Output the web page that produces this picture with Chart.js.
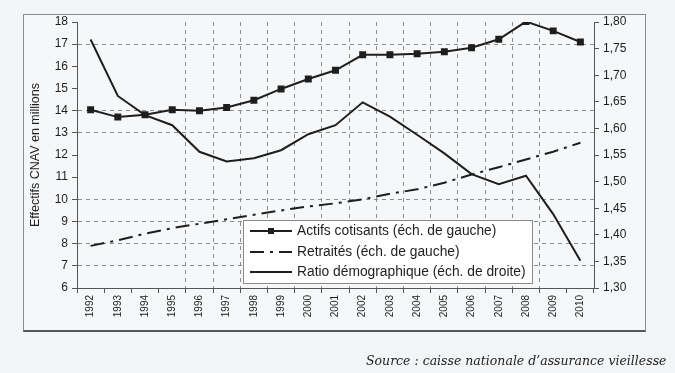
<!DOCTYPE html>
<html>
<head>
<meta charset="utf-8">
<script src="https://cdn.jsdelivr.net/npm/chart.js@4.4.1/dist/chart.umd.min.js"></script>
<style>
  html, body { margin: 0; padding: 0; background: #f4f5f7; }
  #wrap { position: relative; width: 675px; height: 373px; overflow: hidden; }
  #frame { position: absolute; left: 23px; top: 14px; width: 621px; height: 315px;
           border: 1px solid #8a8d92; border-bottom: 2px solid #55585c; background: #f6f7f9; }
  #chart { position: absolute; left: 0; top: 0; }
  #source { position: absolute; left: 366px; top: 353px; font-family: "DejaVu Serif", serif;
            font-style: italic; font-size: 12.5px; color: #222; white-space: nowrap; }
</style>
</head>
<body>
<div id="wrap">
  <div id="frame"></div>
  <canvas id="chart" width="675" height="373"></canvas>
  <div id="source">Source : caisse nationale d’assurance vieillesse</div>
</div>
<script>
// Years on the x axis
const years = ['1992', '1993', '1994', '1995', '1996', '1997', '1998', '1999', '2000', '2001',
               '2002', '2003', '2004', '2005', '2006', '2007', '2008', '2009', '2010'];

// Left scale (millions)
const actifs = [14.04, 13.71, 13.82, 14.04, 14.0, 14.14, 14.47, 14.98, 15.43, 15.82,
                16.52, 16.52, 16.57, 16.66, 16.84, 17.22, 18.02, 17.6, 17.1];
const retraites = [7.9, 8.15, 8.45, 8.7, 8.9, 9.1, 9.3, 9.5, 9.68, 9.82,
                   10.0, 10.25, 10.45, 10.75, 11.12, 11.45, 11.8, 12.15, 12.55];

// Right scale (ratio)
const ratio = [1.767, 1.661, 1.625, 1.606, 1.556, 1.538, 1.544, 1.559, 1.589, 1.606,
               1.649, 1.622, 1.588, 1.553, 1.514, 1.495, 1.511, 1.439, 1.351];

const legendLabels = ['Actifs cotisants (éch. de gauche)', 'Retraités (éch. de gauche)',
                      'Ratio démographique (éch. de droite)'];

// horizontal dashed grid lines that show in the scan
const shownY = [7, 8, 9, 10, 13, 14, 17];

const ink = '#1e1e1e';
const font = "'Liberation Sans', Arial, sans-serif";

// legend box drawn inside the plot
const boxLegend = {
  id: 'boxLegend',
  afterDatasetsDraw(chart) {
    const c = chart.ctx;
    const x = 243, y = 220, w = 289, h = 63;
    c.save();
    c.fillStyle = '#ffffff';
    c.fillRect(x, y, w, h);
    c.strokeStyle = '#8a8a8a';
    c.lineWidth = 1;
    c.strokeRect(x + 0.5, y + 0.5, w, h);
    const rows = [231, 252, 272];
    chart.data.datasets.forEach((ds, i) => {
      const ry = rows[i];
      c.strokeStyle = ink;
      c.lineWidth = 2;
      c.setLineDash(ds.borderDash || []);
      c.beginPath();
      c.moveTo(250, ry);
      c.lineTo(292, ry);
      c.stroke();
      c.setLineDash([]);
      if (ds.pointRadius > 0) {
        c.fillStyle = ink;
        c.fillRect(268, ry - 3, 6, 6);
      }
      c.fillStyle = ink;
      c.font = '13.8px ' + font;
      c.textBaseline = 'middle';
      c.fillText(legendLabels[i], 297, ry);
    });
    c.restore();
  }
};

new Chart(document.getElementById('chart'), {
  type: 'line',
  data: {
    labels: years,
    datasets: [
      {
        label: legendLabels[0], data: actifs, yAxisID: 'y',
        borderColor: ink, borderWidth: 2, pointStyle: 'rect', pointRadius: 3.5,
        pointBackgroundColor: ink, pointBorderColor: ink, tension: 0
      },
      {
        label: legendLabels[1], data: retraites, yAxisID: 'y',
        borderColor: ink, borderWidth: 2, borderDash: [14, 6, 3, 6], pointRadius: 0, tension: 0
      },
      {
        label: legendLabels[2], data: ratio, yAxisID: 'y1',
        borderColor: ink, borderWidth: 2, pointRadius: 0, tension: 0
      }
    ]
  },
  options: {
    responsive: false,
    animation: false,
    events: [],
    layout: { padding: { top: 22, left: 0, right: 0, bottom: 0 } },
    plugins: { legend: { display: false }, tooltip: { enabled: false } },
    scales: {
      x: {
        offset: true,
        afterFit: s => { s.height = 85; },
        grid: {
          offset: true,
          color: c => (c.index >= 4 && c.index <= 17) ? '#8c8c8c' : 'transparent',
          tickColor: '#555', tickLength: 5, lineWidth: 1
        },
        border: { color: '#555', dash: [4, 4] },
        ticks: { minRotation: 90, maxRotation: 90, padding: 2, color: ink,
                 font: { family: font, size: 10 } }
      },
      y: {
        position: 'left', min: 6, max: 18,
        afterFit: s => { s.width = 77; },
        grid: {
          color: c => shownY.includes(c.tick.value) ? '#8c8c8c' : 'transparent',
          tickColor: '#555', tickLength: 5
        },
        border: { color: '#555', dash: [4, 4] },
        ticks: { stepSize: 1, padding: 4, color: ink, font: { family: font, size: 12 } },
        title: { display: true, text: 'Effectifs CNAV en millions', color: ink,
                 font: { family: font, size: 12.5 }, padding: { top: 28, bottom: 0 } }
      },
      y1: {
        position: 'right', min: 1.3, max: 1.8,
        afterFit: s => { s.width = 81; },
        grid: { drawOnChartArea: false, tickColor: '#555', tickLength: 5 },
        border: { color: '#555' },
        ticks: { stepSize: 0.05, padding: 4, color: ink, font: { family: font, size: 12 },
                 callback: v => v.toFixed(2).replace('.', ',') }
      }
    }
  },
  plugins: [boxLegend]
});
</script>
</body>
</html>
